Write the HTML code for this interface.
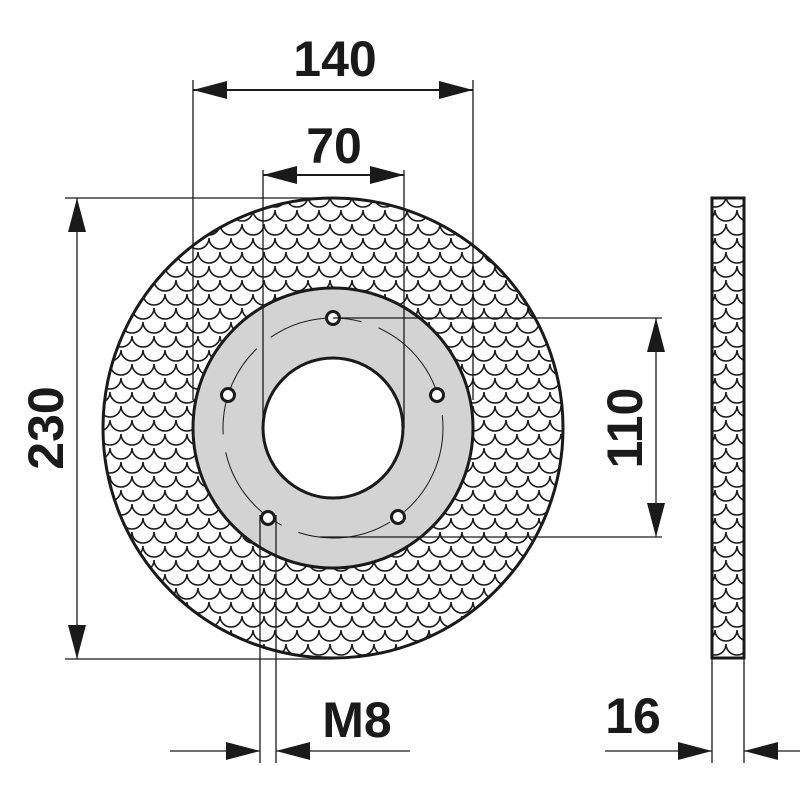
<!DOCTYPE html>
<html><head><meta charset="utf-8"><style>body{margin:0;background:#fff}svg{display:block}</style></head><body>
<svg width="800" height="800" viewBox="0 0 800 800" xmlns="http://www.w3.org/2000/svg">
<defs>
<pattern id="sc" x="0" y="0" width="22" height="28" patternUnits="userSpaceOnUse">
<g fill="none" stroke="#1a1a1a" stroke-width="1.6">
<path d="M0 0 A11 11 0 0 0 22 0"/>
<path d="M-11 14 A11 11 0 0 0 11 14 M11 14 A11 11 0 0 0 33 14"/>
<path d="M0 28 A11 11 0 0 0 22 28"/>
</g>
</pattern>
<marker id="a" markerWidth="36" markerHeight="20" refX="34" refY="9" orient="auto" markerUnits="userSpaceOnUse"><path d="M0 0 L34 9 L0 18 Z" fill="#1a1a1a"/></marker>
</defs>
<g stroke="#1a1a1a">
<circle cx="333" cy="428" r="230" fill="#fff" stroke="none"/>
<circle cx="333" cy="428" r="230" fill="url(#sc)" stroke-width="3"/>
<circle cx="333" cy="428" r="140" fill="#d3d3d3" stroke-width="3"/>
<circle cx="333" cy="428" r="70" fill="#fff" stroke-width="3"/>
<circle cx="333" cy="428" r="110" fill="none" stroke-width="1" stroke-dasharray="95 18"/>
<g fill="#fff" stroke-width="3">
<circle cx="333" cy="318" r="6.5"/><circle cx="228" cy="395" r="6.5"/><circle cx="437" cy="395" r="6.5"/>
<circle cx="268" cy="518" r="6.5"/><circle cx="398" cy="517" r="6.5"/>
</g>
<rect x="712" y="198" width="32" height="460" fill="url(#sc)" stroke-width="3"/>
<g stroke-width="1.3" fill="none">
<line x1="193" y1="80" x2="193" y2="400"/><line x1="473" y1="80" x2="473" y2="400"/>
<line x1="263" y1="170" x2="263" y2="428"/><line x1="404" y1="170" x2="404" y2="428"/>
<line x1="65" y1="198" x2="333" y2="198"/><line x1="65" y1="659" x2="333" y2="659"/>
<line x1="333" y1="318" x2="662" y2="318"/><line x1="320" y1="537" x2="662" y2="537"/>
<line x1="260" y1="515" x2="260" y2="763"/><line x1="276" y1="515" x2="276" y2="763"/>
<line x1="712" y1="658" x2="712" y2="763"/><line x1="744" y1="658" x2="744" y2="763"/>
</g>
<g stroke-width="2" fill="none">
<line x1="333" y1="90" x2="193" y2="90" marker-end="url(#a)"/><line x1="333" y1="90" x2="473" y2="90" marker-end="url(#a)"/>
<line x1="333" y1="175" x2="263" y2="175" marker-end="url(#a)"/><line x1="333" y1="175" x2="404" y2="175" marker-end="url(#a)"/>
</g>
<g stroke-width="1.3" fill="none">
<line x1="77" y1="428" x2="77" y2="198" marker-end="url(#a)"/><line x1="77" y1="428" x2="77" y2="659" marker-end="url(#a)"/>
<line x1="656" y1="428" x2="656" y2="318" marker-end="url(#a)"/><line x1="656" y1="428" x2="656" y2="537" marker-end="url(#a)"/>
<line x1="170" y1="751" x2="260" y2="751" marker-end="url(#a)"/><line x1="410" y1="751" x2="276" y2="751" marker-end="url(#a)"/>
<line x1="605" y1="751" x2="712" y2="751" marker-end="url(#a)"/><line x1="800" y1="751" x2="744" y2="751" marker-end="url(#a)"/>
</g>
</g>
<g font-family="Liberation Sans, sans-serif" font-weight="bold" font-size="50" fill="#1a1a1a" text-anchor="middle">
<text x="335" y="76">140</text>
<text x="334" y="163">70</text>
<text x="357" y="737">M8</text>
<text x="633" y="733">16</text>
<text transform="translate(63 428) rotate(-90)">230</text>
<text transform="translate(642 428) rotate(-90)">110</text>
</g>
</svg>
</body></html>
